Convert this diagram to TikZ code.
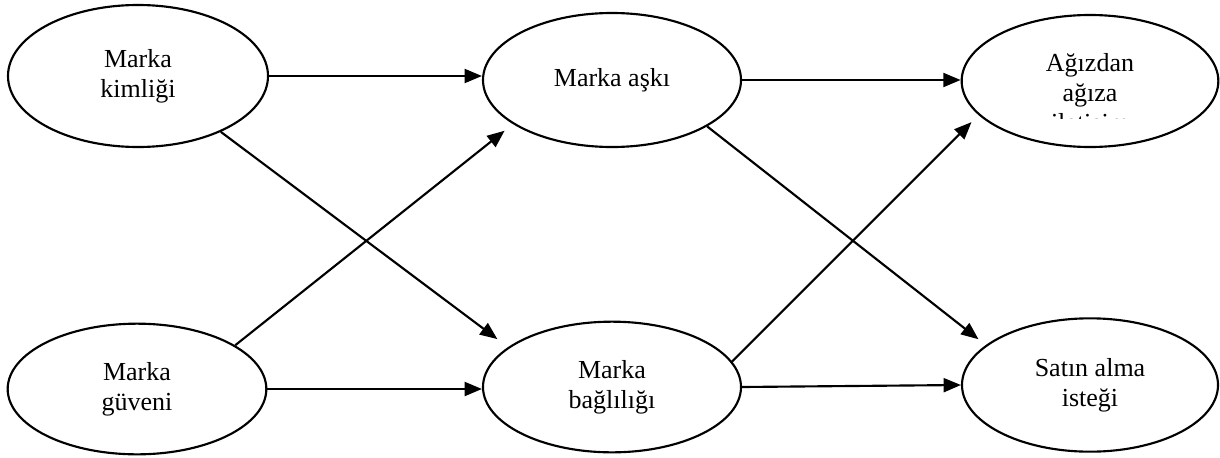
\documentclass[tikz,border=0pt]{standalone}
\usepackage{fontspec}
\setmainfont{Liberation Serif}
\usetikzlibrary{shapes.geometric,arrows.meta}
\begin{document}
\begin{tikzpicture}[x=0.75pt,y=-0.75pt,line join=round,
		oval/.style={draw,ellipse,line width=1.6pt,inner sep=0pt,align=center,
			font=\fontsize{19.5}{22.5}\selectfont},
		okbag/.style={-{Triangle[length=13pt,width=10.5pt]},line width=1.6pt}]
	\useasboundingbox (0,0) rectangle (1220,457);
	%%%Cac hinh elip
	\node[oval,minimum width=195pt,minimum height=106.5pt] (kimlik) at (138,76) {Marka\\kimliği};
	\node[oval,minimum width=194pt,minimum height=98pt] (guven) at (137,389) {Marka\\güveni};
	\node[oval,minimum width=193.5pt,minimum height=100.5pt] (ask) at (612,80) {Marka aşkı};
	\node[oval,minimum width=193.5pt,minimum height=98pt] (bagli) at (612,387) {Marka\\bağlılığı};
	\node[oval,minimum width=192.5pt,minimum height=99pt] (agiz) at (1090,81) {};
	\node[oval,minimum width=192pt,minimum height=100pt] (satin) at (1090,385) {Satın alma\\isteği};
	\begin{scope}
		\clip (963,10) rectangle (1220,118);
		\node[align=center,font=\fontsize{19.5}{22.5}\selectfont] (agizyazi) at (1090,95) {Ağızdan\\ağıza\\iletişim};
	\end{scope}
	%%%Cac mui ten
	\draw[okbag] (kimlik.east) -- (kimlik.east -| ask.west);
	\draw[okbag] (ask.east) -- (ask.east -| agiz.west);
	\draw[okbag] (guven.east) -- (guven.east -| bagli.west);
	\draw[okbag] (bagli.east) -- (satin.west);
	\draw[okbag,shorten >=10pt] (kimlik.-34) -- (bagli.159);
	\draw[okbag,shorten >=8pt] (guven.24) -- (ask.-156);
	\draw[okbag,shorten >=7pt] (ask.-26) -- (satin.159);
	\draw[okbag,shorten >=7.5pt] (bagli.12) -- (agiz.-163);
\end{tikzpicture}
\end{document}
